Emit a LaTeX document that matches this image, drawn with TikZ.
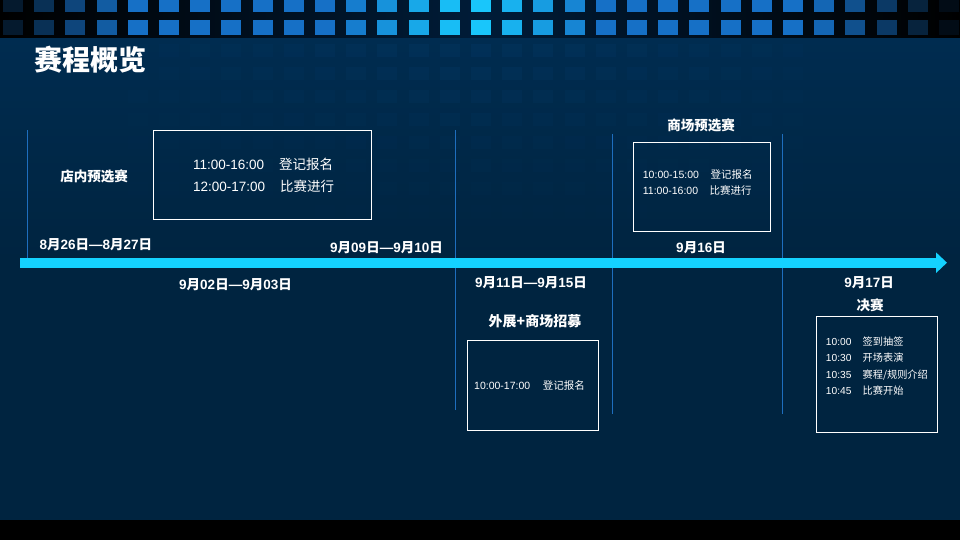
\documentclass[tikz,border=0pt]{standalone}
\usepackage{fontspec}
\setmainfont{Liberation Sans}
\newfontfamily\cjk{Noto Sans CJK SC}
\usetikzlibrary{arrows.meta, positioning}
\definecolor{pagebg}{RGB}{0, 36, 64}
\definecolor{bgtop}{RGB}{0, 44, 80}
\definecolor{bandmid}{RGB}{0, 28, 56}
\definecolor{tilebright}{RGB}{25, 205, 255}
\definecolor{tileblue}{RGB}{22, 112, 198}
\definecolor{axiscolor}{RGB}{20, 210, 255}
\definecolor{rulecolor}{RGB}{30, 110, 190}
\newcommand\zh[1]{{\cjk #1}}
\newcommand\gap{\hspace{1.1em}}

\tikzset{
    panel/.style={draw=white, line width=1pt, inner sep=0pt},
    datelabel/.style={text=white, font=\bfseries\fontsize{13.5}{16}\selectfont, inner sep=0pt},
    stagelabel/.style={text=white, font=\bfseries\cjk\fontsize{13.5}{16}\selectfont, inner sep=0pt},
    bigtext/.style={text=white, font=\fontsize{13.5}{22.4}\selectfont, align=left, inner sep=0pt, anchor=west},
    smalltext/.style={text=white, font=\fontsize{10.5}{16.5}\selectfont, align=left, inner sep=0pt, anchor=west},
    divider/.style={rulecolor, line width=0.8pt},
}

\begin{document}
\begin{tikzpicture}[x=1pt, y=-1pt]
    \useasboundingbox (0,0) rectangle (960,540);

    % Background
    \fill[pagebg] (0,0) rectangle (960,540);
    \shade[top color=bgtop, bottom color=pagebg] (0,38) rectangle (960,260);
    \shade[left color=black, right color=black, middle color=bandmid] (0,0) rectangle (960,38);
    \fill[black] (0,520) rectangle (960,540);

    % Faint tiles
    \foreach \i in {4,...,25} {
        \foreach \k in {0,...,7} {
            \pgfmathsetmacro\cx{3+\i*31.2}
            \pgfmathsetmacro\op{0.07*(1-\k/8)*(1-abs(\cx-470)/520)}
            \fill[tileblue, opacity=\op] (\cx,44+\k*23) rectangle ++(20,13);
        }
    }

    % Top band tiles
    \foreach \i in {0,...,30} {
        \pgfmathsetmacro\cx{3+\i*31.2}
        \pgfmathsetmacro\dd{abs(\cx+10-472)/472}
        \pgfmathtruncatemacro\pa{max(0,100-\dd*350)}
        \pgfmathtruncatemacro\pb{min(100,max(0,(1.05-\dd)*300))}
        \colorlet{tilemix}{tilebright!\pa!tileblue}
        \colorlet{tilecol}{tilemix!\pb!black}
        \fill[tilecol] (\cx,-2) rectangle ++(20,14);
        \fill[tilecol] (\cx,20) rectangle ++(20,15);
    }

    % Title
    \node[text=white, font=\bfseries\cjk\fontsize{28}{30}\selectfont, anchor=west, inner sep=0pt] (title) at (34,60) {赛程概览};

    % Dividers
    \draw[divider] (27,130) -- (27,262);
    \draw[divider] (455,130) -- (455,410);
    \draw[divider] (612,134) -- (612,414);
    \draw[divider] (782,134) -- (782,414);

    % Timeline
    \draw[axiscolor, line width=10pt, -{Triangle[length=11pt, width=20pt]}] (20,262.7) -- (947,262.7);

    % Dates
    \node[datelabel] (d0826) at (95.8,244.3) {8\zh{月}26\zh{日}—8\zh{月}27\zh{日}};
    \node[datelabel] (d0902) at (235.5,284.3) {9\zh{月}02\zh{日}—9\zh{月}03\zh{日}};
    \node[datelabel] (d0909) at (386.5,247.7) {9\zh{月}09\zh{日}—9\zh{月}10\zh{日}};
    \node[datelabel] (d0911) at (531,282.7) {9\zh{月}11\zh{日}—9\zh{月}15\zh{日}};
    \node[datelabel] (d0916) at (701,247.3) {9\zh{月}16\zh{日}};
    \node[datelabel] (d0917) at (869,282.7) {9\zh{月}17\zh{日}};

    % Stages
    \node[stagelabel] (shoprace) at (94,176) {店内预选赛};
    \node[stagelabel, font=\bfseries\cjk\fontsize{14}{16}\selectfont] (recruit) at (535,320.7) {外展+商场招募};
    \node[stagelabel] (mallrace) at (701,125.7) {商场预选赛};
    \node[stagelabel] (final) at (870,305) {决赛};

    % Schedule boxes
    \node[panel, minimum width=218.4, minimum height=89.3] (shopbox) at (262.5,174.7) {};
    \node[bigtext] (shoptext) at (193,175.5) {11:00-16:00\gap\zh{登记报名}\\12:00-17:00\gap\zh{比赛进行}};

    \node[panel, minimum width=131.4, minimum height=90] (recruitbox) at (533,385.7) {};
    \node[smalltext] (recruittext) at (474,386) {10:00-17:00\hspace{1.2em}\zh{登记报名}};

    \node[panel, minimum width=137.4, minimum height=89.4] (mallbox) at (702,187) {};
    \node[smalltext] (malltext) at (642.7,182.4) {10:00-15:00\gap\zh{登记报名}\\11:00-16:00\gap\zh{比赛进行}};

    \node[panel, minimum width=121.4, minimum height=116.3] (finalbox) at (877,374.2) {};
    \node[smalltext, font=\fontsize{10.2}{16.3}\selectfont] (finaltext) at (825.7,366.2) {10:00\gap\zh{签到抽签}\\10:30\gap\zh{开场表演}\\10:35\gap\zh{赛程/规则介绍}\\10:45\gap\zh{比赛开始}};

\end{tikzpicture}
\end{document}
